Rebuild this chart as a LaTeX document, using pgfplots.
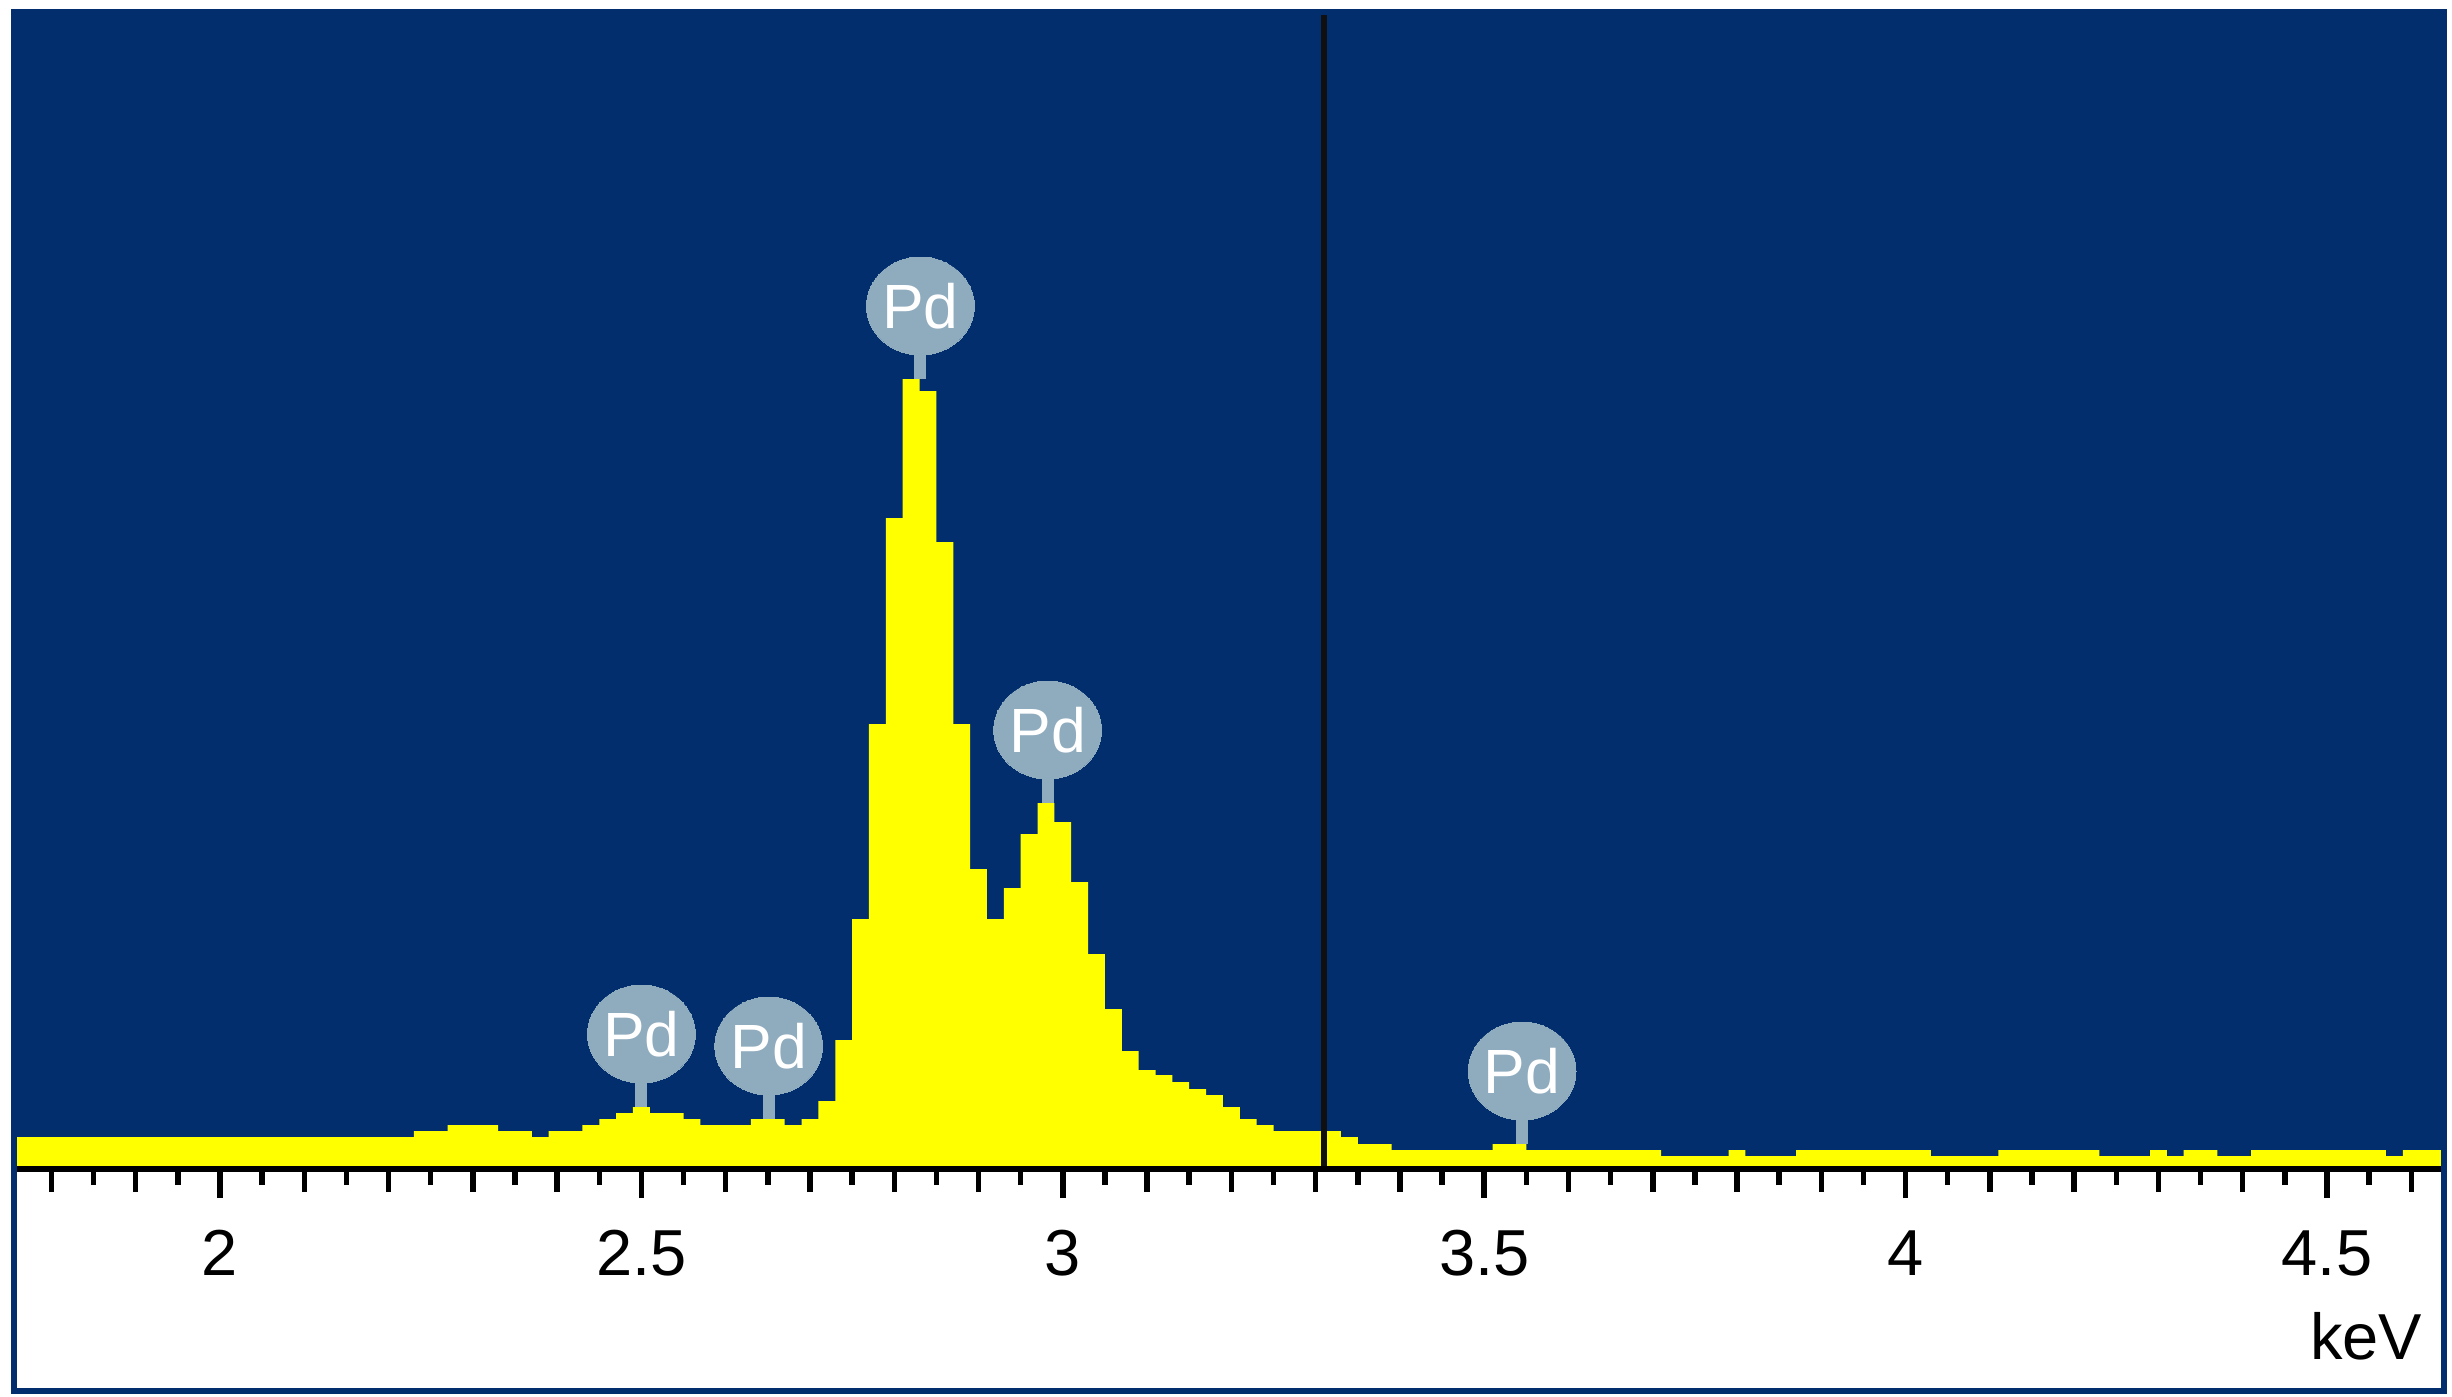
\documentclass[border=0pt]{standalone}
\usepackage{pgfplots}
\pgfplotsset{compat=1.18}
\usepackage{fontspec}
\setmainfont{Liberation Sans}
\definecolor{edsblue}{RGB}{2,46,110}
\definecolor{edsyellow}{RGB}{255,255,0}
\definecolor{pdgrey}{RGB}{143,171,190}
\definecolor{cursor}{RGB}{16,16,16}
\begin{document}
\begin{tikzpicture}
\fill[white] (-3.4pt,-46pt) rectangle (487pt,233.2pt);
\begin{axis}[
  at={(0,0)}, anchor=south west,
  scale only axis, width=484.8pt, height=230.2pt,
  xmin=1.7591, xmax=4.6353, ymin=0, ymax=1151,
  axis x line*=bottom, axis y line=none,
  axis line style={draw=none},
  axis background/.style={fill=edsblue},
  clip mode=individual,
  xtick={2,2.5,3,3.5,4,4.5},
  minor xtick={1.8,1.9,2.1,2.2,2.3,2.4,2.6,2.7,2.8,2.9,3.1,3.2,3.3,3.4,3.6,3.7,3.8,3.9,4.1,4.2,4.3,4.4,4.6},
  extra x ticks={1.85,1.95,2.05,2.15,2.25,2.35,2.45,2.55,2.65,2.75,2.85,2.95,3.05,3.15,3.25,3.35,3.45,3.55,3.65,3.75,3.85,3.95,4.05,4.15,4.25,4.35,4.45,4.55},
  extra x tick labels={},
  extra x tick style={major tick length=3.8pt},
  tick align=outside,
  major tick length=6.4pt, minor tick length=5.2pt,
  tick style={black, line width=1.1pt},
  /pgf/number format/assume math mode=true,
  xticklabel style={font=\fontsize{13}{15}\selectfont, anchor=base, yshift=-15.4pt},
  xlabel={keV},
  xlabel style={at={(rel axis cs:1,0)}, anchor=base east, yshift=-38.6pt, xshift=-0.2pt, font=\fontsize{13}{15}\selectfont},
]
\addplot[fill=edsyellow, draw=none, const plot mark left] coordinates {
(1.75,29) (1.77,29) (1.79,29) (1.81,29) (1.83,29) (1.85,29) (1.87,29) (1.89,29)
(1.91,29) (1.93,29) (1.95,29) (1.97,29) (1.99,29) (2.01,29) (2.03,29) (2.05,29)
(2.07,29) (2.09,29) (2.11,29) (2.13,29) (2.15,29) (2.17,29) (2.19,29) (2.21,29)
(2.23,35) (2.25,35) (2.27,41) (2.29,41) (2.31,41) (2.33,35) (2.35,35) (2.37,29)
(2.39,35) (2.41,35) (2.43,41) (2.45,47) (2.47,53) (2.49,59) (2.51,53) (2.53,53)
(2.55,47) (2.57,41) (2.59,41) (2.61,41) (2.63,47) (2.65,47) (2.67,41) (2.69,47)
(2.71,65) (2.73,126) (2.75,247) (2.77,442) (2.79,648) (2.81,787) (2.83,775) (2.85,624)
(2.87,442) (2.89,297) (2.91,247) (2.93,278) (2.95,332) (2.97,363) (2.99,344) (3.01,284)
(3.03,212) (3.05,157) (3.07,115) (3.09,96) (3.11,91) (3.13,84) (3.15,77) (3.17,71)
(3.19,59) (3.21,47) (3.23,41) (3.25,35) (3.27,35) (3.29,35) (3.31,35) (3.33,29)
(3.35,22) (3.37,22) (3.39,16) (3.41,16) (3.43,16) (3.45,16) (3.47,16) (3.49,16)
(3.51,22) (3.53,22) (3.55,16) (3.57,16) (3.59,16) (3.61,16) (3.63,16) (3.65,16)
(3.67,16) (3.69,16) (3.71,10) (3.73,10) (3.75,10) (3.77,10) (3.79,16) (3.81,10)
(3.83,10) (3.85,10) (3.87,16) (3.89,16) (3.91,16) (3.93,16) (3.95,16) (3.97,16)
(3.99,16) (4.01,16) (4.03,10) (4.05,10) (4.07,10) (4.09,10) (4.11,16) (4.13,16)
(4.15,16) (4.17,16) (4.19,16) (4.21,16) (4.23,10) (4.25,10) (4.27,10) (4.29,16)
(4.31,10) (4.33,16) (4.35,16) (4.37,10) (4.39,10) (4.41,16) (4.43,16) (4.45,16)
(4.47,16) (4.49,16) (4.51,16) (4.53,16) (4.55,16) (4.57,10) (4.59,16) (4.61,16)
(4.63,16) (4.65,16)
} \closedcycle;
% cursor line
\addplot[cursor, line width=1.2pt] coordinates {(3.31,0) (3.31,1151)};
% Pd marker stems
\addplot[pdgrey, line width=2.4pt] coordinates {(2.831,787) (2.831,860)};
\addplot[pdgrey, line width=2.4pt] coordinates {(2.982,363) (2.982,436)};
\addplot[pdgrey, line width=2.4pt] coordinates {(2.500,59) (2.500,132)};
\addplot[pdgrey, line width=2.4pt] coordinates {(2.651,47) (2.651,120)};
\addplot[pdgrey, line width=2.4pt] coordinates {(3.545,22) (3.545,95)};
% Pd marker discs
\addplot[pdgrey, only marks, mark=*, mark size=9.8pt, mark options={xscale=1.1, fill=pdgrey, draw=pdgrey, line width=0pt}]
  coordinates {(2.831,860) (2.982,436) (2.500,132) (2.651,120) (3.545,95)};
\node[text=white, font=\fontsize{12.5}{14}\selectfont, inner sep=0pt] at (axis cs:2.831,860) {Pd};
\node[text=white, font=\fontsize{12.5}{14}\selectfont, inner sep=0pt] at (axis cs:2.982,436) {Pd};
\node[text=white, font=\fontsize{12.5}{14}\selectfont, inner sep=0pt] at (axis cs:2.500,132) {Pd};
\node[text=white, font=\fontsize{12.5}{14}\selectfont, inner sep=0pt] at (axis cs:2.651,120) {Pd};
\node[text=white, font=\fontsize{12.5}{14}\selectfont, inner sep=0pt] at (axis cs:3.545,95) {Pd};
% x axis line
\draw[black, line width=1.2pt] ([yshift=-0.6pt]rel axis cs:0,0) -- ([yshift=-0.6pt]rel axis cs:1,0);
\end{axis}
\draw[edsblue, line width=1.2pt] (-0.6pt,-45pt) rectangle (485.4pt,230.8pt);
\pgfresetboundingbox
\useasboundingbox (-3.4pt,-46pt) rectangle (487pt,233.2pt);
\end{tikzpicture}
\end{document}
